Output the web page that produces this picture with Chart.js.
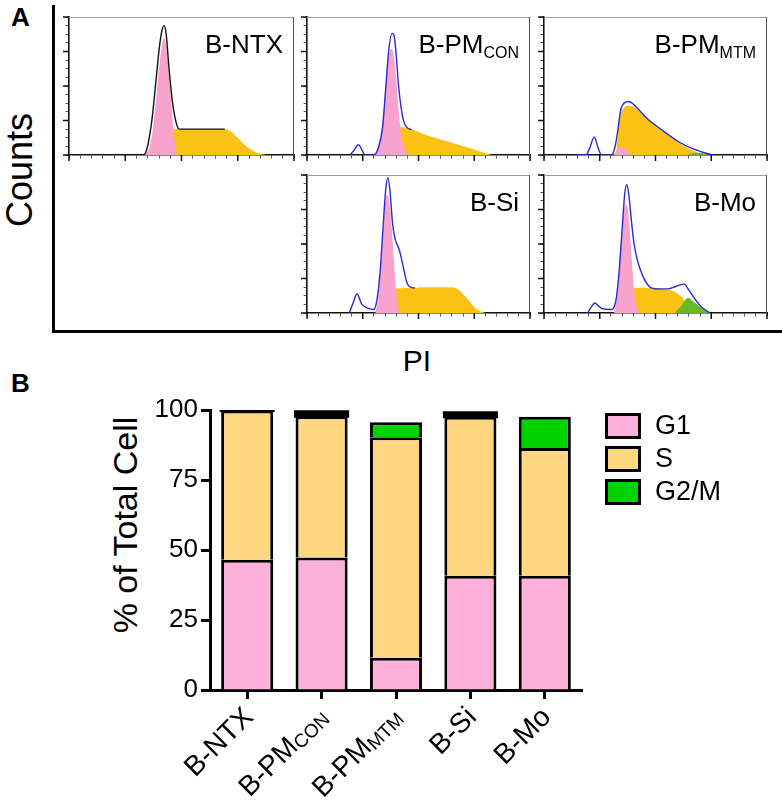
<!DOCTYPE html>
<html><head><meta charset="utf-8">
<script src="https://cdn.jsdelivr.net/npm/chart.js@4.4.0/dist/chart.umd.min.js"></script>
<style>
html,body{margin:0;padding:0;background:#fff;}
body{width:782px;height:800px;position:relative;overflow:hidden;font-family:'Liberation Sans',Arial,Helvetica,sans-serif;}
canvas{position:absolute;}
.t{position:absolute;white-space:nowrap;color:#000;line-height:1;}
.rot{transform:translate(-50%,-50%) rotate(-90deg);}
.ctr{transform:translate(-50%,-50%);}
#frameA{position:absolute;left:52px;top:5px;width:727px;height:325px;border-left:3px solid #000;border-bottom:3px solid #000;}
</style></head><body>
<div id="frameA"></div>
<div class="t" style="left:11px;top:4px;font-weight:bold;font-size:26px;">A</div>
<div class="t rot" style="left:20px;top:170px;font-size:36px;">Counts</div>
<div class="t ctr" style="left:417px;top:361px;font-size:30px;">PI</div>
<div class="t" style="left:11px;top:370px;font-weight:bold;font-size:26px;">B</div>
<div class="t rot" style="left:125px;top:525px;font-size:34px;">% of Total Cell</div>

<canvas id="hNTX"></canvas>
<canvas id="hCON"></canvas>
<canvas id="hMTM"></canvas>
<canvas id="hSi"></canvas>
<canvas id="hMo"></canvas>
<canvas id="bars" width="782" height="440" style="left:0;top:360px;"></canvas>

<script>
// ---------------- DATA ----------------
// Panel B: cell-cycle distribution (% of total cells)
const categories = ['B-NTX', 'B-PMCON', 'B-PMMTM', 'B-Si', 'B-Mo'];
const catSubscripts = ['', 'CON', 'MTM', '', ''];
const phaseLabels = ['G1', 'S', 'G2/M'];
const g1Values  = [46.5, 47.3, 11.5, 40.8, 40.8];
const sValues   = [53.3, 50.5, 78.8, 56.8, 45.6];
const g2mValues = [0.0, 1.6, 5.3, 1.4, 11.2];
const yTicksB = [0, 25, 50, 75, 100];

// Panel A: PI histograms, [channel, counts]
const ntxOutline = [[244,0],[333,0],[348,9],[360,25],[370,44],[385,82],[400,121],[412,143],[422,150],[432,140],[444,102],[459,63],[474,40],[489,30],[520,30],[560,30],[600,30],[650,30],[692,30]];
const ntxG1 = [[333,0],[356,8],[370,25],[385,60],[400,100],[412,125],[422,136],[433,125],[444,95],[455,60],[464,30],[474,8],[481,0]];
const ntxS  = [[370,0],[393,9],[422,20],[444,27],[467,30],[520,30],[600,30],[696,30],[720,27],[750,20],[780,12],[810,6],[840,2],[874,0]];
const ntxG2M = [];

const conOutline = [[194,0],[212,6],[231,12],[246,6],[261,0],[299,0],[321,9],[339,32],[354,81],[366,120],[381,141],[390,139],[400,116],[410,82],[422,55],[434,39],[448,32],[463,30],[470,29.5]];
const conG1 = [[301,0],[321,10],[339,40],[354,85],[366,115],[378,123],[390,115],[400,90],[410,55],[422,25],[437,8],[455,0]];
const conS  = [[313,0],[351,10],[381,22],[403,30],[418,32.5],[545,22.4],[694,10.6],[784,3.5],[828,0]];
const conG2M = [];

const mtmOutline = [[139,0],[188,0],[205,8],[225,21],[243,8],[258,0],[303,0],[318,9],[333,32],[343,51],[355,59],[381,62],[400,59],[460,43],[534,28],[609,14.5],[669,7],[728,2],[758,0]];
const mtmG1 = [[310,0],[333,6],[351,10.5],[370,5],[393,0]];
const mtmS  = [[322,0],[330,20],[337,39],[348,51],[385,57],[460,42.5],[534,27],[609,13.4],[669,5],[713,0]];
const mtmG2M = [[639,0],[684,2.5],[713,2],[743,0]];

const siOutline = [[190,0],[207,12],[224,22],[246,10],[269,6],[299,4],[313,14],[328,48],[343,107],[354,146],[363,157],[372,142],[384,103],[396,85],[413,74],[433,52],[448,35],[463,30],[485,29]];
const siG1 = [[306,0],[321,20],[336,75],[348,120],[358,137],[370,128],[381,95],[390,60],[400,25],[410,5],[422,0]];
const siS  = [[313,0],[351,15],[373,25],[396,28.5],[485,29],[507,30],[649,30],[679,27],[724,15],[761,4],[799,0]];
const siG2M = [];

const moOutline = [[196,0],[212,7],[228,11.6],[245,8],[261,5],[299,4],[321,12.7],[336,45.5],[351,99.5],[362,138],[371,149],[380,138],[392,107],[404,80],[419,61],[442,43.6],[472,30.8],[510,28],[555,28],[593,31],[630,33.5],[646,28],[676,16.6],[706,7],[744,0]];
const moG1 = [[314,0],[332,30],[344,80],[356,115],[367,126],[377,118],[386,90],[397,50],[407,20],[419,5],[434,0]];
const moS  = [[329,0],[359,12],[389,25],[412,29.3],[480,29.3],[540,27.5],[585,25],[615,19],[646,10],[676,4],[706,0]];
const moG2M = [[585,0],[615,8],[646,17.7],[667,14],[691,9],[721,3],[744,0]];

const histTitles = [['B-NTX',''],['B-PM','CON'],['B-PM','MTM'],['B-Si',''],['B-Mo','']];

// ---------------- STYLE ----------------
const FONT = "'Liberation Sans', Arial, Helvetica, sans-serif";
const HC = {g1:'#f7a3cb', s:'#fbc213', g2m:'#69b923', blue:'#2a2ad2', black:'#111'};
const BC = {g1:'#fdb1da', s:'#fed680', g2m:'#00d200'};

function drawSubText(ctx, main, sub, x, y, size, subSize, subDy) {
  ctx.font = size + 'px ' + FONT;
  const wm = ctx.measureText(main).width;
  ctx.font = subSize + 'px ' + FONT;
  const ws = sub ? ctx.measureText(sub).width : 0;
  const start = x - wm - ws;
  ctx.textAlign = 'left';
  ctx.font = size + 'px ' + FONT;
  ctx.fillText(main, start, y);
  if (sub) { ctx.font = subSize + 'px ' + FONT; ctx.fillText(sub, start + wm, y + subDy); }
}

const pts = arr => arr.map(p => ({x: p[0], y: p[1]}));

function histChart(id, box, outline, outlineColor, g1, s, g2m, title) {
  const cv = document.getElementById(id);
  const padL = 15, padT = 12, padR = 8, padB = 10;
  const W = box[2] - box[0], H = box[3] - box[1];
  cv.width = Math.round(W + padL + padR); cv.height = Math.round(H + padT + padB);
  cv.style.left = (box[0] - padL) + 'px'; cv.style.top = (box[1] - padT) + 'px';
  const framePlugin = {
    id: 'frame',
    afterDraw(chart) {
      const {ctx, chartArea: a} = chart;
      const xs = chart.scales.x, ys = chart.scales.y;
      ctx.save();
      ctx.lineWidth = 1;
      ctx.strokeStyle = '#9a9a9a';
      ctx.beginPath(); ctx.moveTo(a.left, Math.round(a.top) + 0.5); ctx.lineTo(a.right, Math.round(a.top) + 0.5); ctx.stroke();
      ctx.strokeStyle = '#555';
      ctx.beginPath(); ctx.moveTo(Math.round(a.right) - 0.5, a.top); ctx.lineTo(Math.round(a.right) - 0.5, a.bottom); ctx.stroke();
      // longer major tick marks
      ctx.strokeStyle = '#111'; ctx.lineWidth = 1.5;
      xs.ticks.forEach(t => {
        if (t.value % 250 === 0) {
          const px = xs.getPixelForValue(t.value);
          ctx.beginPath(); ctx.moveTo(px, a.bottom); ctx.lineTo(px, a.bottom + 6); ctx.stroke();
        }
      });
      ys.ticks.forEach(t => {
        if (t.value % 40 === 0) {
          const py = ys.getPixelForValue(t.value);
          ctx.beginPath(); ctx.moveTo(a.left, py); ctx.lineTo(a.left - 6, py); ctx.stroke();
        }
      });
      ctx.fillStyle = '#000';
      ctx.textBaseline = 'alphabetic';
      drawSubText(ctx, title[0], title[1], a.right - 11, a.top + 36, 26, 16, 5);
      ctx.restore();
    }
  };
  const mk = (data, color, fill, bw, lc) => ({
    data: pts(data), backgroundColor: color, borderColor: lc || color, borderWidth: bw,
    fill: fill ? 'origin' : false, pointRadius: 0, cubicInterpolationMode: 'monotone'
  });
  return new Chart(cv, {
    type: 'line',
    data: { datasets: [
      mk(outline, 'rgba(0,0,0,0)', false, 1.4, outlineColor),
      mk(g1, HC.g1, true, 0),
      mk(g2m, HC.g2m, true, 0),
      mk(s, HC.s, true, 0)
    ]},
    options: {
      responsive: false, animation: false, devicePixelRatio: 1,
      layout: {padding: {left: 0, top: padT, right: padR, bottom: 0}},
      plugins: {legend: {display: false}, tooltip: {enabled: false}},
      scales: {
        x: { type: 'linear', min: 0, max: 1000,
             afterFit: sc => { sc.height = padB; },
             ticks: {display: false, stepSize: 50},
             grid: {drawOnChartArea: false, drawTicks: true, tickLength: 3.5, tickColor: '#555', tickWidth: 1},
             border: {display: true, color: '#111', width: 1.6} },
        y: { min: 0, max: 160,
             afterFit: sc => { sc.width = padL; },
             ticks: {display: false, stepSize: 10},
             grid: {drawOnChartArea: false, drawTicks: true, tickLength: 3.5, tickColor: '#555', tickWidth: 1},
             border: {display: true, color: '#111', width: 1.6} }
      }
    },
    plugins: [framePlugin]
  });
}

histChart('hNTX', [68.5, 16.5, 293, 154], ntxOutline, HC.black, ntxG1, ntxS, ntxG2M, histTitles[0]);
histChart('hCON', [306.5, 16.5, 529.5, 154], conOutline, HC.blue, conG1, conS, conG2M, histTitles[1]);
histChart('hMTM', [544, 16.5, 767, 154], mtmOutline, HC.blue, mtmG1, mtmS, mtmG2M, histTitles[2]);
histChart('hSi', [306.5, 174.5, 529.5, 312], siOutline, HC.blue, siG1, siS, siG2M, histTitles[3]);
histChart('hMo', [544, 174.5, 767, 312], moOutline, HC.blue, moG1, moS, moG2M, histTitles[4]);

// ---------------- PANEL B ----------------
const xLabelPlugin = {
  id: 'xlabels',
  afterDraw(chart) {
    const {ctx} = chart;
    const xs = chart.scales.x;
    ctx.save();
    ctx.fillStyle = '#000';
    ctx.textBaseline = 'middle';
    categories.forEach((c, i) => {
      const sub = catSubscripts[i];
      const main = sub ? c.slice(0, c.length - sub.length) : c;
      const px = xs.getPixelForTick(i);
      ctx.save();
      ctx.translate(px + 2, xs.top + 23);
      ctx.rotate(-Math.PI / 4);
      drawSubText(ctx, main, sub, 0, 0, 28, 19, 5);
      ctx.restore();
    });
    ctx.restore();
  }
};
const legendPlugin = {
  id: 'boxlegend',
  afterDraw(chart) {
    const {ctx} = chart;
    ctx.save();
    chart.data.datasets.forEach((ds, i) => {
      const x = 605, y = 53 + i * 33, w = 36, h = 26;
      ctx.fillStyle = ds.legendColor;
      ctx.fillRect(x, y, w, h);
      ctx.strokeStyle = '#000'; ctx.lineWidth = 3;
      ctx.strokeRect(x + 1.5, y + 1.5, w - 3, h - 3);
      ctx.fillStyle = '#000';
      ctx.font = '27px ' + FONT;
      ctx.textAlign = 'left'; ctx.textBaseline = 'middle';
      ctx.fillText(ds.label, 655, y + h / 2 + 1);
    });
    ctx.restore();
  }
};

const thin = c => c.raw !== undefined && c.raw < 2;
new Chart(document.getElementById('bars'), {
  type: 'bar',
  data: {
    labels: categories,
    datasets: [
      {label: phaseLabels[0], data: g1Values, backgroundColor: BC.g1, legendColor: BC.g1},
      {label: phaseLabels[1], data: sValues, backgroundColor: BC.s, legendColor: BC.s},
      {label: phaseLabels[2], data: g2mValues, legendColor: BC.g2m,
       backgroundColor: c => thin(c) ? '#000' : BC.g2m,
       borderWidth: c => thin(c) ? 0 : 3,
       inflateAmount: c => thin(c) ? 1.5 : 'auto'}
    ].map(d => Object.assign({borderColor: '#000', borderWidth: 3, barPercentage: 0.7, categoryPercentage: 1.0}, d))
  },
  options: {
    responsive: false, animation: false, devicePixelRatio: 1,
    layout: {padding: {left: 0, top: 50, right: 200, bottom: 0}},
    plugins: {legend: {display: false}, tooltip: {enabled: false}},
    scales: {
      x: { stacked: true,
           afterFit: sc => { sc.height = 110; },
           ticks: {display: false},
           grid: {drawOnChartArea: false, offset: false, drawTicks: true, tickLength: 9, tickWidth: 3, tickColor: '#000'},
           border: {display: true, color: '#000', width: 3} },
      y: { stacked: true, min: 0, max: 100,
           afterFit: sc => { sc.width = 210; },
           afterBuildTicks: sc => { sc.ticks = yTicksB.map(v => ({value: v})); },
           ticks: {color: '#000', padding: 3, font: {family: FONT, size: 26}},
           grid: {drawOnChartArea: false, drawTicks: true, tickLength: 9, tickWidth: 3, tickColor: '#000'},
           border: {display: true, color: '#000', width: 3} }
    }
  },
  plugins: [xLabelPlugin, legendPlugin]
});
</script>
</body></html>
